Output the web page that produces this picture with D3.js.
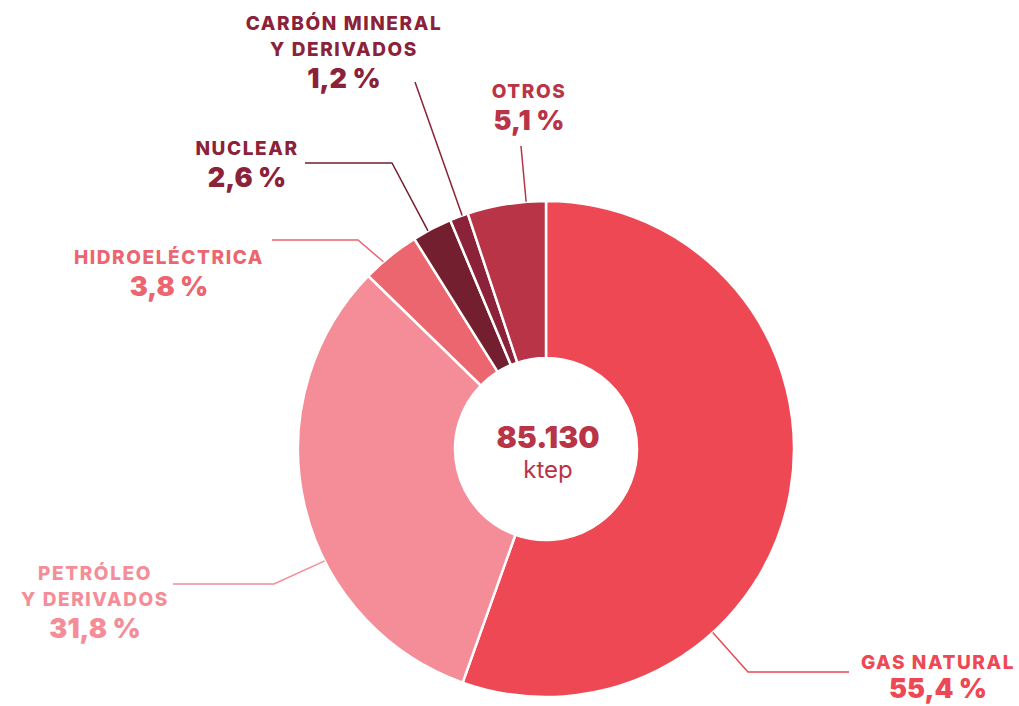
<!DOCTYPE html>
<html>
<head>
<meta charset="utf-8">
<script src="https://cdn.jsdelivr.net/npm/d3@7"></script>
<style>
  html, body { margin: 0; padding: 0; background: #fff; }
  svg { display: block; font-family: Inter, "Open Sans", sans-serif; }
</style>
</head>
<body>
<div id="chart"></div>
<script>
// energy matrix shares, clockwise from 12 o'clock
const categories = ['GAS NATURAL', 'PETRÓLEO|Y DERIVADOS', 'HIDROELÉCTRICA', 'NUCLEAR', 'CARBÓN MINERAL|Y DERIVADOS', 'OTROS'];
const shares = [55.4, 31.8, 3.8, 2.6, 1.2, 5.1];
const sliceColors = ['#ee4854', '#f48d98', '#ec6670', '#731f30', '#8c2239', '#b83446'];
const labelColors = ['#ee4854', '#f48d98', '#ec6670', '#8c2239', '#8c2239', '#b83446'];
const total = '85.130';
const unit = 'ktep';

const width = 1019, height = 706;
const cx = 546, cy = 449;
const outer = 248, inner = 91;

// label layout: where the leader touches the slice (fraction of its span),
// elbow and end of the leader, text anchor point, gap to the percentage
const layout = [
    {frac: 0.69, elbow: [748, 672], end: [849, 672], text: [938, 669], gap: 29},
    {frac: 0.38, elbow: [274, 584], end: [173, 584], text: [95, 580], gap: 32},
    {frac: 0.35, elbow: [358, 240], end: [272, 240], text: [169, 264], gap: 32},
    {frac: 0.39, elbow: [392, 163], end: [305, 163], text: [247, 155], gap: 32},
    {frac: 0.68, elbow: null, end: [415, 82], text: [344, 30], gap: 32},
    {frac: 0.75, elbow: null, end: [521, 146], text: [529, 98], gap: 32}
];

const svg = d3.select('#chart')
    .append('svg')
    .attr('width', width)
    .attr('height', height);

const g = svg.append('g')
    .attr('transform', `translate(${cx},${cy})`);

const pie = d3.pie()
    .sort(null)
    .value(d => d)
    (shares);

const arc = d3.arc()
    .innerRadius(inner)
    .outerRadius(outer);

g.selectAll('path.segment')
    .data(pie)
    .enter().append('path')
    .attr('class', 'segment')
    .attr('fill', (d, i) => sliceColors[i])
    .attr('stroke', '#fff')
    .attr('stroke-width', 2.5)
    .attr('d', arc);

// leader lines
pie.forEach((d, i) => {
    const l = layout[i];
    const a = d.startAngle + l.frac * (d.endAngle - d.startAngle);
    const p = [cx + outer * Math.sin(a), cy - outer * Math.cos(a)];
    const pts = l.elbow ? [p, l.elbow, l.end] : [p, l.end];
    svg.append('path')
        .attr('d', d3.line()(pts))
        .attr('fill', 'none')
        .attr('stroke', i === 3 ? sliceColors[i] : labelColors[i])
        .attr('stroke-width', 1.5);
});

// labels
pie.forEach((d, i) => {
    const l = layout[i];
    const lines = categories[i].split('|');
    const t = svg.append('text')
        .attr('text-anchor', 'middle')
        .attr('fill', labelColors[i]);
    lines.forEach((line, j) => {
        t.append('tspan')
            .attr('x', l.text[0])
            .attr('y', l.text[1] + j * 26)
            .attr('font-size', 19)
            .attr('font-weight', 800)
            .attr('letter-spacing', 1.6)
            .text(line);
    });
    t.append('tspan')
        .attr('x', l.text[0])
        .attr('y', l.text[1] + (lines.length - 1) * 26 + l.gap)
        .attr('font-size', 27)
        .attr('font-weight', 900)
        .text(shares[i].toFixed(1).replace('.', ',') + ' %');
});

// centre total
g.append('text')
    .attr('text-anchor', 'middle')
    .attr('x', 2)
    .attr('y', -1)
    .attr('fill', '#b83446')
    .attr('font-size', 30)
    .attr('font-weight', 900)
    .text(total);

g.append('text')
    .attr('text-anchor', 'middle')
    .attr('x', 2)
    .attr('y', 29)
    .attr('fill', '#b83446')
    .attr('font-size', 24)
    .attr('font-weight', 400)
    .text(unit);
</script>
</body>
</html>
